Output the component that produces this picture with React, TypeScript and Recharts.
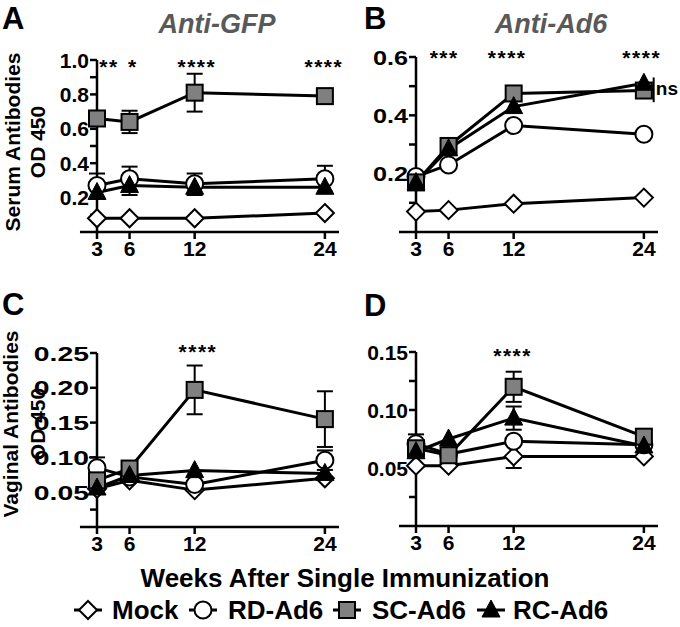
import React from 'react';
import { LineChart, Line, XAxis, YAxis, ErrorBar, ReferenceLine, ReferenceDot } from 'recharts';

const FONT = '"Liberation Sans", Arial, Helvetica, sans-serif';

const weeks = [3, 6, 12, 24];
const groups = ['Mock', 'RD-Ad6', 'SC-Ad6', 'RC-Ad6'];

// A - serum, anti-GFP
const aMock = [0.08, 0.08, 0.08, 0.11];
const aRD = [0.27, 0.31, 0.28, 0.31];
const aSC = [0.66, 0.64, 0.81, 0.79];
const aRC = [0.23, 0.27, 0.26, 0.26];
const aMockErr = [null, null, null, null];
const aRDErr = [0.07, 0.07, 0.06, 0.075];
const aSCErr = [null, 0.065, 0.11, null];
const aRCErr = [0.035, 0.055, 0.045, null];

// B - serum, anti-Ad6
const bMock = [0.07, 0.075, 0.097, 0.118];
const bRD = [0.19, 0.23, 0.365, 0.335];
const bSC = [0.17, 0.295, 0.475, 0.485];
const bRC = [0.17, 0.285, 0.43, 0.51];
const bNoErr = [null, null, null, null];

// C - vaginal, anti-GFP
const cMock = [0.055, 0.067, 0.053, 0.07];
const cRD = [0.085, 0.072, 0.061, 0.096];
const cSC = [0.067, 0.084, 0.197, 0.155];
const cRC = [0.056, 0.074, 0.081, 0.077];
const cMockErr = [null, null, null, null];
const cRDErr = [0.015, null, null, 0.014];
const cSCErr = [null, null, 0.035, 0.04];
const cRCErr = [null, null, null, null];

// D - vaginal, anti-Ad6
const dMock = [0.052, 0.052, 0.06, 0.06];
const dRD = [0.071, 0.062, 0.073, 0.07];
const dSC = [0.067, 0.061, 0.12, 0.077];
const dRC = [0.064, 0.075, 0.093, 0.069];
const dMockErr = [null, null, 0.01, null];
const dRDErr = [0.008, null, null, null];
const dSCErr = [null, null, 0.013, null];
const dRCErr = [null, null, 0.01, null];

// significance marks: [week, label]
const aStars: [number, string][] = [[4.1, '**'], [6.3, '*'], [12.2, '****'], [23.9, '****']];
const bStars: [number, string][] = [[5.6, '***'], [11.4, '****'], [23.8, '****']];
const cStars: [number, string][] = [[12.3, '****']];
const dStars: [number, string][] = [[11.9, '****']];

const buildRows = (mock, rd, sc, rc, mockE, rdE, scE, rcE) =>
  weeks.map((w, i) => ({
    week: w,
    mock: mock[i], rd: rd[i], sc: sc[i], rc: rc[i],
    mockErr: mockE[i], rdErr: rdE[i], scErr: scE[i], rcErr: rcE[i],
  }));

const Diamond = ({ cx, cy }) => (
  <path d={`M${cx},${cy - 9}L${cx + 9},${cy}L${cx},${cy + 9}L${cx - 9},${cy}Z`} fill="#fff" stroke="#000" strokeWidth={2} />
);
const Circle = ({ cx, cy }) => <circle cx={cx} cy={cy} r={8.5} fill="#fff" stroke="#000" strokeWidth={2} />;
const Square = ({ cx, cy }) => (
  <rect x={cx - 8} y={cy - 8} width={16} height={16} fill="#808080" stroke="#000" strokeWidth={2} />
);
const Triangle = ({ cx, cy }) => (
  <path d={`M${cx},${cy - 10}L${cx + 9},${cy + 7}L${cx - 9},${cy + 7}Z`} fill="#000" stroke="#000" strokeWidth={1} />
);

const series = [
  { key: 'mock', Shape: Diamond },
  { key: 'rd', Shape: Circle },
  { key: 'sc', Shape: Square },
  { key: 'rc', Shape: Triangle },
];

const yTick = (major: number[], digits: number, stretch: number) => (p: any) => {
  const v = p.payload.value;
  if (!major.some((m) => Math.abs(m - v) < 1e-9)) return <g />;
  return (
    <text
      transform={`translate(${p.x},${p.y}) scale(${stretch},1)`}
      textAnchor="end"
      dy="0.36em"
      fill="#000"
      fontSize={21}
      fontWeight={700}
      fontFamily={FONT}
    >
      {v.toFixed(digits)}
    </text>
  );
};

const Panel = ({ left, top, rows, yMax, yTicks, yMajor, digits, plotTop, axisHeight, stretch, stars, starY, children }: any) => (
  <div style={{ position: 'absolute', left, top }}>
    <LineChart width={340} height={265} data={rows} margin={{ top: plotTop, right: 1, left: 0, bottom: 0 }}>
      <XAxis
        type="number"
        dataKey="week"
        domain={[3, 25.3]}
        ticks={weeks}
        interval={0}
        axisLine={false}
        tickLine={{ stroke: '#000', strokeWidth: 2.5 }}
        tickSize={7}
        tickMargin={2}
        height={axisHeight}
        tick={{ fill: '#000', fontSize: 21, fontWeight: 700, fontFamily: FONT }}
      />
      <YAxis
        type="number"
        domain={[0, yMax]}
        ticks={yTicks}
        interval={0}
        width={97}
        axisLine={{ stroke: '#000', strokeWidth: 2.5 }}
        tickLine={{ stroke: '#000', strokeWidth: 2.5 }}
        tickSize={7}
        tickMargin={1}
        tick={yTick(yMajor, digits, stretch)}
      />
      <ReferenceLine
        segment={[{ x: 1.43, y: 0 }, { x: 25.3, y: 0 }]}
        stroke="#000"
        strokeWidth={2.5}
        ifOverflow="visible"
      />
      {series.map((s) => (
        <Line
          key={s.key}
          dataKey={s.key}
          stroke="#000"
          strokeWidth={3}
          isAnimationActive={false}
          dot={(p: any) => <s.Shape key={`${s.key}-${p.index}`} cx={p.cx} cy={p.cy} />}
          activeDot={false}
        >
          <ErrorBar dataKey={`${s.key}Err`} width={8} stroke="#000" strokeWidth={2} direction="y" />
        </Line>
      ))}
      {stars.map(([w, t]: [number, string], i: number) => (
        <ReferenceDot
          key={`star-${i}`}
          x={w}
          y={starY}
          r={0}
          ifOverflow="visible"
          shape={(p: any) => (
            <text
              x={p.cx}
              y={p.cy + 12}
              textAnchor="middle"
              fontSize={21}
              fontWeight={700}
              letterSpacing={1.5}
              fontFamily={FONT}
              fill="#000"
            >
              {t}
            </text>
          )}
        />
      ))}
      {children}
    </LineChart>
  </div>
);

const legendItems = [
  { Shape: Diamond, sx: 88, tx: 112 },
  { Shape: Circle, sx: 203, tx: 228 },
  { Shape: Square, sx: 347, tx: 372 },
  { Shape: Triangle, sx: 491, tx: 513 },
];

export default function App() {
  const txt = { fontFamily: FONT, fontWeight: 700, fill: '#000' } as const;
  return (
    <div style={{ position: 'absolute', left: 0, top: 0, width: 680, height: 627, background: '#fff', overflow: 'hidden' }}>
      <style>{`.recharts-surface{overflow:visible}`}</style>
      <Panel
        left={0}
        top={0}
        rows={buildRows(aMock, aRD, aSC, aRC, aMockErr, aRDErr, aSCErr, aRCErr)}
        yMax={1}
        yTicks={[0.1, 0.2, 0.3, 0.4, 0.5, 0.6, 0.7, 0.8, 0.9, 1.0]}
        yMajor={[0.2, 0.4, 0.6, 0.8, 1.0]}
        digits={1}
        plotTop={60}
        axisHeight={33}
        stretch={1}
        stars={aStars}
        starY={0.99}
      />
      <Panel
        left={319}
        top={0}
        rows={buildRows(bMock, bRD, bSC, bRC, bNoErr, bNoErr, bNoErr, bNoErr)}
        yMax={0.6}
        yTicks={[0.1, 0.2, 0.3, 0.4, 0.5, 0.6]}
        yMajor={[0.2, 0.4, 0.6]}
        digits={1}
        plotTop={57}
        axisHeight={33}
        stretch={1.2}
        stars={bStars}
        starY={0.613}
      >
        <ReferenceLine
          segment={[{ x: 24.9, y: 0.53 }, { x: 24.9, y: 0.445 }]}
          stroke="#000"
          strokeWidth={2}
          ifOverflow="visible"
        />
        <ReferenceDot
          x={25.1}
          y={0.49}
          r={0}
          ifOverflow="visible"
          shape={(p: any) => (
            <text x={p.cx} y={p.cy + 6} fontSize={19} fontWeight={700} fontFamily={FONT} fill="#000">
              ns
            </text>
          )}
        />
      </Panel>
      <Panel
        left={0}
        top={290}
        rows={buildRows(cMock, cRD, cSC, cRC, cMockErr, cRDErr, cSCErr, cRCErr)}
        yMax={0.25}
        yTicks={[0.025, 0.05, 0.1, 0.15, 0.2, 0.25]}
        yMajor={[0.05, 0.1, 0.15, 0.2, 0.25]}
        digits={2}
        plotTop={63}
        axisHeight={28}
        stretch={1.35}
        stars={cStars}
        starY={0.259}
      />
      <Panel
        left={319}
        top={290}
        rows={buildRows(dMock, dRD, dSC, dRC, dMockErr, dRDErr, dSCErr, dRCErr)}
        yMax={0.15}
        yTicks={[0.025, 0.05, 0.075, 0.1, 0.125, 0.15]}
        yMajor={[0.05, 0.1, 0.15]}
        digits={2}
        plotTop={62}
        axisHeight={29}
        stretch={1}
        stars={dStars}
        starY={0.151}
      />
      <svg width={680} height={627} style={{ position: 'absolute', left: 0, top: 0, pointerEvents: 'none' }}>
        <text x={2} y={29} fontSize={31} {...txt}>A</text>
        <text x={364} y={29} fontSize={31} {...txt}>B</text>
        <text x={2} y={315} fontSize={31} {...txt}>C</text>
        <text x={364} y={316} fontSize={31} {...txt}>D</text>
        <text x={217} y={33} fontSize={27} textAnchor="middle" fontStyle="italic" fontFamily={FONT} fontWeight={700} fill="#595959">
          Anti-GFP
        </text>
        <text x={551} y={33} fontSize={27} textAnchor="middle" fontStyle="italic" fontFamily={FONT} fontWeight={700} fill="#595959">
          Anti-Ad6
        </text>
        <text transform="translate(20,142) rotate(-90)" textAnchor="middle" fontSize={21} {...txt}>Serum Antibodies</text>
        <text transform="translate(45,142) rotate(-90)" textAnchor="middle" fontSize={21} {...txt}>OD 450</text>
        <text transform="translate(18,424) rotate(-90)" textAnchor="middle" fontSize={21} {...txt}>Vaginal Antibodies</text>
        <text transform="translate(45,424) rotate(-90)" textAnchor="middle" fontSize={21} {...txt}>OD 450</text>
        <text x={345} y={587} textAnchor="middle" fontSize={26} {...txt}>Weeks After Single Immunization</text>
        {legendItems.map((it, i) => (
          <g key={groups[i]}>
            <line x1={it.sx - 14} x2={it.sx + 14} y1={610} y2={610} stroke="#000" strokeWidth={3} />
            <it.Shape cx={it.sx} cy={610} />
            <text x={it.tx} y={619} fontSize={26} {...txt}>{groups[i]}</text>
          </g>
        ))}
      </svg>
    </div>
  );
}
